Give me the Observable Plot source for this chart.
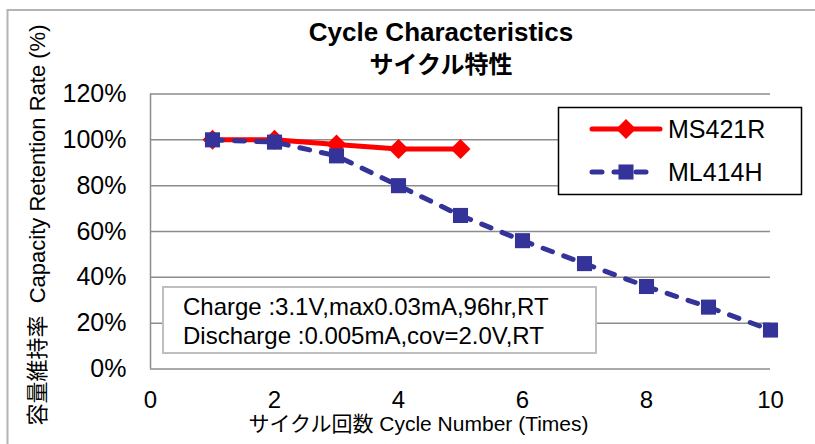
<!DOCTYPE html>
<html><head><meta charset="utf-8">
<script src="https://cdn.jsdelivr.net/npm/d3@7"></script>
<script src="https://cdn.jsdelivr.net/npm/@observablehq/plot@0.6"></script>
<style>
body{margin:0;background:#fff;}
#chart{position:relative;width:815px;height:444px;overflow:hidden;}
#chart svg{font-family:"Liberation Sans",Arial,"Noto Sans CJK JP",sans-serif;}
</style></head><body><div id="chart"></div>
<script>
const cycles = [1,2,3,4,5,6,7,8,9,10];
const ms421r = [100,100,98,96,96];
const ml414h = [100,99,93,80,67,56,46,36,27,17];
const seriesNames = ["MS421R","ML414H"];
const seriesColors = ["#ff0000","#333399"];
const xTicks = [0,2,4,6,8,10];
const yTicks = [0,20,40,60,80,100,120];
const titleLines = ["Cycle Characteristics","サイクル特性"];
const xLabel = "サイクル回数 Cycle Number (Times)";
const yLabel = "容量維持率  Capacity Retention Rate (%)";
const noteLines = ["Charge :3.1V,max0.03mA,96hr,RT","Discharge :0.005mA,cov=2.0V,RT"];

const rowsA = ms421r.map((v,i)=>({x:cycles[i],y:v}));
const rowsB = ml414h.map((v,i)=>({x:cycles[i],y:v}));
const FONT = '"Liberation Sans",Arial,"Noto Sans CJK JP",sans-serif';

const svg = Plot.plot({
  width:815,height:444,
  marginLeft:150,marginRight:45,marginTop:93.5,marginBottom:75.5,
  style:{fontFamily:FONT,fontSize:"24px",color:"#000",background:"transparent",overflow:"visible"},
  x:{domain:[0,10]},
  y:{domain:[0,120]},
  marks:[
    Plot.gridY(yTicks,{stroke:"#8c8c8c",strokeOpacity:1,strokeWidth:1.5}),
    Plot.ruleX([0],{stroke:"#8c8c8c",strokeWidth:1.5}),
    Plot.axisX(xTicks,{tickSize:0,tickPadding:21.5,fontSize:24,label:null}),
    Plot.axisY(yTicks,{tickSize:0,tickPadding:24,fontSize:25,label:null,tickFormat:d=>d+"%"}),
    Plot.line(rowsA,{x:"x",y:"y",stroke:seriesColors[0],strokeWidth:5}),
    Plot.dot(rowsA,{x:"x",y:"y",symbol:"diamond2",r:9,fill:seriesColors[0]}),
    Plot.line(rowsB,{x:"x",y:"y",stroke:seriesColors[1],strokeWidth:5,strokeDasharray:"10,12",strokeLinecap:"round"}),
    Plot.dot(rowsB,{x:"x",y:"y",symbol:"square",r:8.5,fill:seriesColors[1]}),
    Plot.text([xLabel],{frameAnchor:"bottom",dx:-42,dy:62,fontSize:21,fill:"#000"})
  ]
});
document.getElementById("chart").appendChild(svg);

const s = d3.select(svg);
// outer chart border
s.append("path").attr("d","M7.5,444V10H815").attr("fill","none").attr("stroke","#b4b4b4").attr("stroke-width",2);
// y label
s.append("text").attr("transform","translate(37,225) rotate(-90)").attr("text-anchor","middle").attr("dy","0.35em").attr("font-size",22).text(yLabel);
// title
s.append("text").attr("x",441).attr("y",41).attr("text-anchor","middle").attr("font-weight","bold").attr("font-size",26).text(titleLines[0]);
s.append("text").attr("x",441).attr("y",73).attr("text-anchor","middle").attr("font-weight","bold").attr("font-size",24).text(titleLines[1]);
// note box
s.append("rect").attr("x",163).attr("y",287).attr("width",433).attr("height",66).attr("fill","#fff").attr("stroke","#bfbfbf").attr("stroke-width",2);
noteLines.forEach((t,i)=>s.append("text").attr("x",183).attr("y",315+i*29).attr("text-anchor","start").attr("font-size",24).text(t));
// legend
s.append("rect").attr("x",558.5).attr("y",107.5).attr("width",243).attr("height",87).attr("fill","#fff").attr("stroke","#000").attr("stroke-width",1.5);
const ly = [129,172];
s.append("line").attr("x1",592).attr("x2",660).attr("y1",ly[0]).attr("y2",ly[0]).attr("stroke",seriesColors[0]).attr("stroke-width",5).attr("stroke-linecap","round");
s.append("path").attr("transform",`translate(626,${ly[0]})`).attr("d",d3.symbol(d3.symbolDiamond2,Math.PI*81)()).attr("fill",seriesColors[0]);
s.append("line").attr("x1",592).attr("x2",652).attr("y1",ly[1]).attr("y2",ly[1]).attr("stroke",seriesColors[1]).attr("stroke-width",5).attr("stroke-linecap","round").attr("stroke-dasharray","10,12");
s.append("path").attr("transform",`translate(626,${ly[1]})`).attr("d",d3.symbol(d3.symbolSquare,Math.PI*8.5*8.5)()).attr("fill",seriesColors[1]);
seriesNames.forEach((n,i)=>s.append("text").attr("x",668).attr("y",ly[i]).attr("dy","0.35em").attr("text-anchor","start").attr("font-size",25).text(n));
</script></body></html>
